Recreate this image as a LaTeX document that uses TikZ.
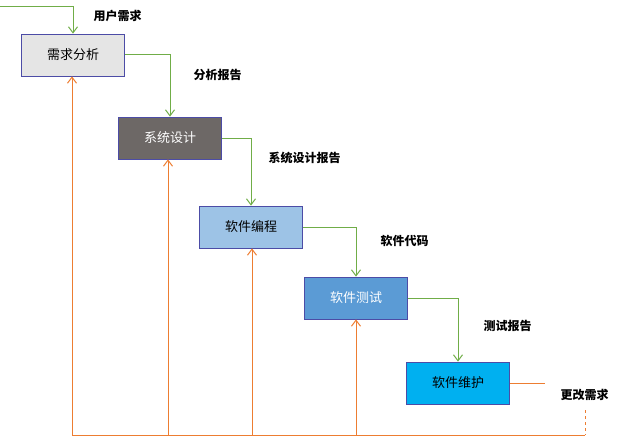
\documentclass[tikz,border=0pt]{standalone}
\usepackage{fontspec}
\setmainfont{Noto Sans CJK SC}
\usetikzlibrary{arrows.meta}
\definecolor{flowGreen}{HTML}{70AD47}
\definecolor{backOrange}{HTML}{ED7D31}
\tikzset{
  stage/.style={draw=blue!50!black!70, line width=0.8pt, minimum width=103pt, minimum height=42pt, font=\fontsize{13}{15}\selectfont, inner sep=0pt},
  flow/.style={flowGreen, line width=1pt, -{Straight Barb[length=6pt,width=9pt]}},
  back/.style={backOrange, line width=1pt, -{Straight Barb[length=6pt,width=9pt]}},
  lbl/.style={font=\fontsize{12}{14}\selectfont\bfseries, anchor=west}
}
\begin{document}
\begin{tikzpicture}[x=1pt,y=-1pt]
    \useasboundingbox (0,0) rectangle (640,444);

    \node[stage, fill=gray!20] (analyse) at (73,55) {需求分析};
    \node[stage, fill={rgb,255:red,109;green,104;blue,102}, text=white] (design) at (170,138) {系统设计};
    \node[stage, fill={rgb,255:red,157;green,195;blue,230}] (coding) at (251,227) {软件编程};
    \node[stage, fill={rgb,255:red,91;green,155;blue,213}, text=white] (testing) at (356,298) {软件测试};
    \node[stage, fill={rgb,255:red,0;green,176;blue,240}] (maintain) at (458,383) {软件维护};

    \coordinate (start) at (0,7);
    \coordinate (changeEnd) at (545,383);
    \coordinate (changeLow) at (585,410);
    \coordinate (bottomRight) at (585,435);

    % forward flow
    \draw[flow] (start) -| (analyse.north);
    \draw[flow] (analyse.east) -| (design.north);
    \draw[flow] (design.east) -| (coding.north);
    \draw[flow] (coding.east) -| (testing.north);
    \draw[flow] (testing.east) -| (maintain.north);

    \node[lbl] (userReq) at (90,16) {用户需求};
    \node[lbl] (analyseRep) at (190,75) {分析报告};
    \node[lbl] (designRep) at (265,158) {系统设计报告};
    \node[lbl] (codeOut) at (377,241) {软件代码};
    \node[lbl] (testRep) at (480,326) {测试报告};
    \node[lbl] (changeReq) at (557,395) {更改需求};

    % change requests back
    \draw[backOrange, line width=1pt] (maintain.east) -- (changeEnd);
    \draw[backOrange, line width=1pt, dashed] (changeLow) -- (bottomRight);
    \draw[backOrange, line width=1pt] (bottomRight) -- (72,435);
    \foreach \n/\x in {analyse/72,design/168,coding/252,testing/356} {
      \draw[back] (\x,435) -- (\x,0 |- \n.south);
    }
\end{tikzpicture}
\end{document}
